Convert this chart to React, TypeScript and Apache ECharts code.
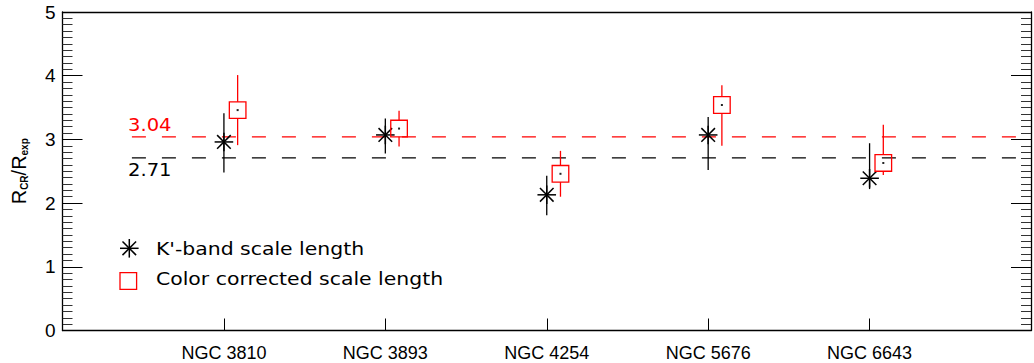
import React, { useEffect, useRef } from "react";
import * as echarts from "echarts";

const categories = ["NGC 3810", "NGC 3893", "NGC 4254", "NGC 5676", "NGC 6643"];
const kbandValues = [2.96, 3.07, 2.13, 3.07, 2.39];
const kbandLow = [2.48, 2.78, 1.81, 2.52, 2.22];
const kbandHigh = [3.41, 3.33, 2.43, 3.35, 2.94];
const colorValues = [3.46, 3.17, 2.46, 3.54, 2.63];
const colorLow = [2.91, 2.89, 2.1, 2.9, 2.44];
const colorHigh = [4.01, 3.45, 2.82, 3.85, 3.23];
const kbandMean = 2.71;
const colorMean = 3.04;
const meanLineStart = 0.43;
const seriesNames = ["K'-band scale length", "Color corrected scale length"];

const RED = "#ff0000";
const BLACK = "#000000";
const LW = 1.3;
const FONT = "DejaVu Sans";
const TICKFONT = "Liberation Sans";

function asteriskLines(cx: number, cy: number, r: number, d: number, style: any) {
  return [
    { type: "line", shape: { x1: cx - r, y1: cy, x2: cx + r, y2: cy }, style },
    { type: "line", shape: { x1: cx, y1: cy - r, x2: cx, y2: cy + r }, style },
    { type: "line", shape: { x1: cx - d, y1: cy - d, x2: cx + d, y2: cy + d }, style },
    { type: "line", shape: { x1: cx - d, y1: cy + d, x2: cx + d, y2: cy - d }, style },
  ];
}

export default function App() {
  const ref = useRef<HTMLDivElement>(null);
  useEffect(() => {
    document.body.style.margin = "0";
    if (!ref.current) return;
    const chart = echarts.init(ref.current, undefined, { renderer: "svg" });

    const kData = kbandValues.map((v, i) => [i + 1, v, kbandLow[i], kbandHigh[i]]);
    const cData = colorValues.map((v, i) => [i + 1 + 0.085, v, colorLow[i], colorHigh[i]]);
    const blackStyle = { stroke: BLACK, lineWidth: LW, fill: "none" };
    const redStyle = { stroke: RED, lineWidth: LW, fill: "none" };
    const half = 8.3;

    const option: any = {
      animation: false,
      backgroundColor: "#ffffff",
      grid: { left: 59, top: 12, width: 982, height: 318.5, containLabel: false },
      xAxis: [
        {
          type: "value",
          min: 0,
          max: 6,
          interval: 1,
          position: "bottom",
          axisLine: { show: true, onZero: false, lineStyle: { color: BLACK, width: LW } },
          axisTick: { show: true, inside: true, length: 12, lineStyle: { color: BLACK, width: 1 } },
          axisLabel: {
            formatter: (v: number) => (v >= 1 && v <= 5 ? categories[Math.round(v) - 1] : ""),
            margin: 13,
            fontSize: 18,
            color: BLACK,
            fontFamily: TICKFONT,
          },
          splitLine: { show: false },
        },
        {
          type: "value",
          min: 0,
          max: 6,
          position: "top",
          axisLine: { show: true, onZero: false, lineStyle: { color: BLACK, width: LW } },
          axisTick: { show: false },
          axisLabel: { show: false },
          splitLine: { show: false },
        },
      ],
      yAxis: [
        {
          type: "value",
          min: 0,
          max: 5,
          interval: 1,
          position: "left",
          axisLine: { show: true, onZero: false, lineStyle: { color: BLACK, width: LW } },
          axisTick: { show: true, inside: true, length: 20, lineStyle: { color: BLACK, width: 1 } },
          minorTick: { show: true, splitNumber: 10, length: 10, lineStyle: { color: "#333", width: 1 } },
          axisLabel: { margin: 7, fontSize: 19, color: BLACK, fontFamily: TICKFONT, padding: [4, 0, 0, 0] },
          splitLine: { show: false },
          minorSplitLine: { show: false },
          name: "{r|R}{s|CR}{r|/R}{s|exp}",
          nameLocation: "middle",
          nameGap: 32,
          nameRotate: 90,
          nameTextStyle: {
            rich: {
              r: { fontSize: 20, fontFamily: TICKFONT, color: BLACK, lineHeight: 24 },
              s: { fontSize: 10, fontFamily: TICKFONT, color: BLACK, fontWeight: "bold", padding: [11, 0, 0, 0], lineHeight: 24 },
            },
          },
        },
        {
          type: "value",
          min: 0,
          max: 5,
          interval: 1,
          position: "right",
          axisLine: { show: true, onZero: false, lineStyle: { color: BLACK, width: LW } },
          axisTick: { show: true, inside: true, length: 20, lineStyle: { color: BLACK, width: 1 } },
          minorTick: { show: true, splitNumber: 10, length: 10, lineStyle: { color: "#333", width: 1 } },
          axisLabel: { show: false },
          splitLine: { show: false },
        },
      ],
      series: [
        {
          name: "K'-band mean",
          type: "line",
          data: [[meanLineStart, kbandMean], [6, kbandMean]],
          symbol: "none",
          lineStyle: { color: BLACK, width: LW, type: [14, 16] },
          silent: true,
          z: 1,
        },
        {
          name: "Color corrected mean",
          type: "line",
          data: [[meanLineStart, colorMean], [6, colorMean]],
          symbol: "none",
          lineStyle: { color: RED, width: LW, type: [14, 16] },
          silent: true,
          z: 1,
        },
        {
          name: seriesNames[0],
          type: "custom",
          data: kData,
          encode: { x: 0, y: [1, 2, 3] },
          z: 3,
          renderItem: (params: any, api: any) => {
            const x = api.value(0);
            const c = api.coord([x, api.value(1)]);
            const lo = api.coord([x, api.value(2)]);
            const hi = api.coord([x, api.value(3)]);
            return {
              type: "group",
              children: [
                { type: "line", shape: { x1: c[0], y1: hi[1], x2: c[0], y2: lo[1] }, style: blackStyle },
                ...asteriskLines(c[0], c[1], 9.3, 6.8, { stroke: BLACK, lineWidth: 1.5 }),
              ],
            };
          },
        },
        {
          name: seriesNames[1],
          type: "custom",
          data: cData,
          encode: { x: 0, y: [1, 2, 3] },
          z: 4,
          renderItem: (params: any, api: any) => {
            const x = api.value(0);
            const c = api.coord([x, api.value(1)]);
            const lo = api.coord([x, api.value(2)]);
            const hi = api.coord([x, api.value(3)]);
            const children: any[] = [
              { type: "rect", shape: { x: c[0] - half, y: c[1] - half, width: half * 2, height: half * 2 }, style: redStyle },
              { type: "rect", shape: { x: c[0] - 1, y: c[1] - 1, width: 2, height: 2 }, style: { fill: "#222" } },
            ];
            if (hi[1] < c[1] - half) {
              children.push({ type: "line", shape: { x1: c[0], y1: hi[1], x2: c[0], y2: c[1] - half }, style: redStyle });
            }
            if (lo[1] > c[1] + half) {
              children.push({ type: "line", shape: { x1: c[0], y1: c[1] + half, x2: c[0], y2: lo[1] }, style: redStyle });
            }
            return { type: "group", children };
          },
        },
      ],
      graphic: [
        {
          type: "text",
          x: 128,
          y: 124.5,
          scaleX: 1.15,
          style: { text: colorMean.toFixed(2), fill: RED, font: `17px '${FONT}'`, verticalAlign: "middle" },
        },
        {
          type: "text",
          x: 128,
          y: 170,
          scaleX: 1.15,
          style: { text: kbandMean.toFixed(2), fill: BLACK, font: `17px '${FONT}'`, verticalAlign: "middle" },
        },
        {
          type: "group",
          x: 129.3,
          y: 248.3,
          children: asteriskLines(0, 0, 9.3, 6.8, { stroke: BLACK, lineWidth: 1.5 }),
        },
        {
          type: "text",
          x: 156,
          y: 249,
          scaleX: 1.2,
          style: { text: seriesNames[0], fill: BLACK, font: `17px '${FONT}'`, verticalAlign: "middle" },
        },
        {
          type: "rect",
          x: 128.3 - half,
          y: 281 - half,
          shape: { x: 0, y: 0, width: half * 2, height: half * 2 },
          style: { stroke: RED, lineWidth: LW, fill: "none" },
        },
        {
          type: "text",
          x: 156,
          y: 279.5,
          scaleX: 1.2,
          style: { text: seriesNames[1], fill: BLACK, font: `17px '${FONT}'`, verticalAlign: "middle" },
        },
      ],
    };
    chart.setOption(option);
    return () => chart.dispose();
  }, []);
  return <div ref={ref} style={{ width: 1034, height: 363 }} />;
}
